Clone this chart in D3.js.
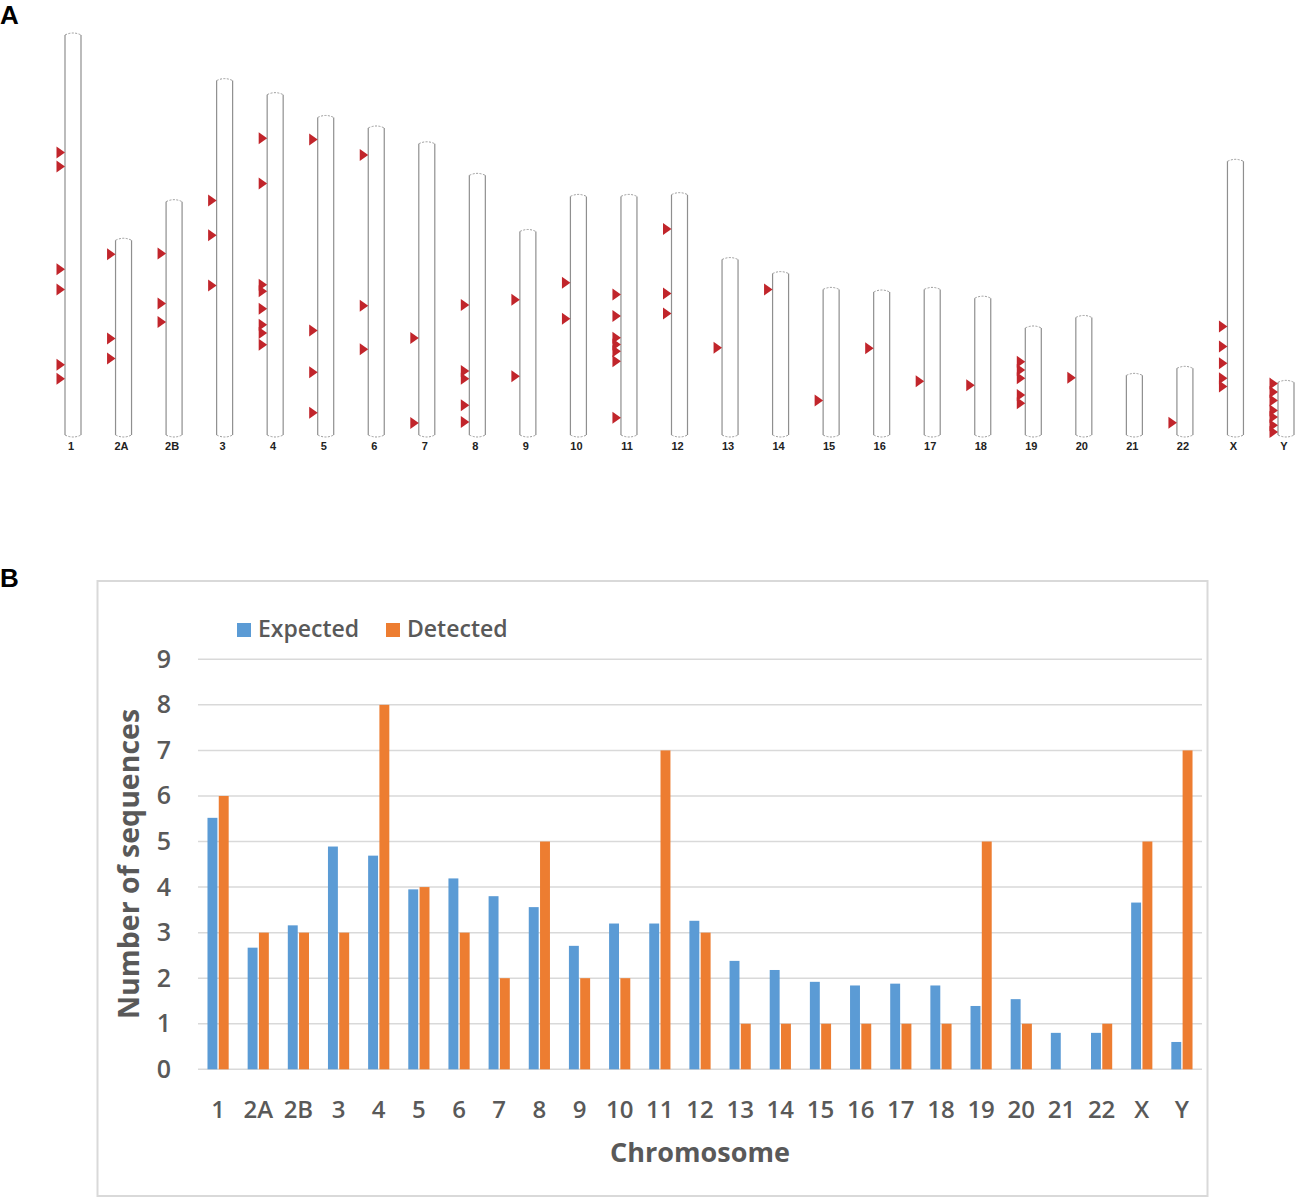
<!DOCTYPE html>
<html>
<head>
<meta charset="utf-8">
<script src="https://cdn.jsdelivr.net/npm/d3@7"></script>
<style>
  body { margin: 0; background: #fff; }
  svg { display: block; }
</style>
</head>
<body>
<div id="chart-area"></div>
<script>
// chromosomes shared by both panels
var chroms = ["1","2A","2B","3","4","5","6","7","8","9","10","11","12","13","14","15","16","17","18","19","20","21","22","X","Y"];

// panel A: chromosome lengths (Mb) and hit positions (Mb from top end)
var chromLength = [228, 111, 133, 202, 194, 181, 175, 166, 148, 116, 136, 136, 137, 100, 92, 83, 81.5, 83, 78, 61, 67, 34, 38, 156, 30];
var hitPositions = [
  [67, 75, 133.5, 145, 188, 196],
  [8, 56, 67.4],
  [29.6, 58.1, 68.6],
  [68.4, 88.2, 116.8],
  [24.9, 50.7, 108.3, 112.1, 122.1, 131.1, 135.8, 142.5],
  [12.5, 121.4, 145.2, 168.3],
  [15.4, 101.3, 126.1],
  [110.7, 159.2],
  [73.9, 111.5, 115.9, 131.1, 140.6],
  [38.9, 82.5],
  [49.2, 69.7],
  [55.9, 68.2, 80.5, 84.4, 88.2, 93.9, 126.1],
  [19.6, 56.4, 67.8],
  [50.3],
  [9.1],
  [63.3],
  [32.1],
  [52.3],
  [49.6],
  [19.2, 23.9, 28.7, 38.2, 42.9],
  [34.4],
  [],
  [31],
  [94.2, 105.6, 115.1, 123.7, 128.4],
  [0.7, 5.5, 10.3, 16, 19.8, 24.5, 28.3]
];

// panel B: number of sequences
var seriesNames = ["Expected", "Detected"];
var expected = [5.52, 2.67, 3.16, 4.89, 4.69, 3.95, 4.19, 3.80, 3.56, 2.71, 3.20, 3.20, 3.26, 2.38, 2.18, 1.92, 1.84, 1.88, 1.84, 1.39, 1.54, 0.80, 0.80, 3.66, 0.60];
var detected = [6, 3, 3, 3, 8, 4, 3, 2, 5, 2, 2, 7, 3, 1, 1, 1, 1, 1, 1, 5, 1, 0, 1, 5, 7];
var yTicks = [0, 1, 2, 3, 4, 5, 6, 7, 8, 9];

var colors = {Expected: "#5b9bd5", Detected: "#ed7d31"};
var textGrey = "#595959";

var svg = d3.select("#chart-area").append("svg")
    .attr("width", 1300)
    .attr("height", 1203)
    .style("font-family", "'Open Sans', sans-serif");

svg.append("rect").attr("width", 1300).attr("height", 1203).attr("fill", "#fff");

// ---------- panel A ----------
svg.append("text").attr("x", 0).attr("y", 24)
    .attr("font-family", "'Liberation Sans', Arial, sans-serif")
    .attr("font-weight", "bold").attr("font-size", 26).text("A");

var baseA = 435, halfW = 8;
var xA = d3.scalePoint().domain(chroms).range([73, 1286]);
var kA = d3.scaleLinear().domain([0, 228]).range([0, 400]);

var chromData = chroms.map(function(c, i) {
  return {name: c, len: chromLength[i], hits: hitPositions[i]};
});

var gChr = svg.append("g").selectAll("g")
  .data(chromData)
  .enter().append("g");

gChr.append("rect")
    .attr("x", d => xA(d.name) - halfW)
    .attr("y", d => baseA - kA(d.len))
    .attr("width", halfW * 2)
    .attr("height", d => kA(d.len))
    .attr("fill", "#fff");

gChr.append("path")
    .attr("d", d => {
      var l = xA(d.name) - halfW, r = xA(d.name) + halfW, t = baseA - kA(d.len);
      return "M" + l + "," + t + "V" + baseA + "M" + r + "," + t + "V" + baseA;
    })
    .attr("stroke", "#8f8f8f")
    .attr("stroke-width", 1.2)
    .attr("fill", "none");

gChr.append("path")
    .attr("d", d => {
      var c = xA(d.name), l = c - halfW, r = c + halfW, t = baseA - kA(d.len);
      return "M" + l + "," + t + "Q" + c + "," + (t - 4) + " " + r + "," + t +
             "M" + l + "," + baseA + "Q" + c + "," + (baseA + 4) + " " + r + "," + baseA;
    })
    .attr("stroke", "#9a9a9a")
    .attr("stroke-width", 1)
    .attr("stroke-dasharray", "2,1.5")
    .attr("fill", "none");

gChr.selectAll("path.hit")
  .data(d => d.hits.map(p => ({c: d.name, y: baseA - kA(d.len) + kA(p)})))
  .enter().append("path")
    .attr("class", "hit")
    .attr("d", d => {
      var tip = xA(d.c) - halfW;
      return "M" + (tip - 8.5) + "," + (d.y - 6) + "L" + tip + "," + d.y + "L" + (tip - 8.5) + "," + (d.y + 6) + "Z";
    })
    .attr("fill", "#c1252b");

gChr.append("text")
    .attr("x", d => xA(d.name) - 2)
    .attr("y", 449.5)
    .attr("text-anchor", "middle")
    .attr("font-family", "'Liberation Sans', Arial, sans-serif")
    .attr("font-weight", "bold")
    .attr("font-size", 11)
    .attr("fill", "#222")
    .text(d => d.name);

// ---------- panel B ----------
svg.append("text").attr("x", 0).attr("y", 587)
    .attr("font-family", "'Liberation Sans', Arial, sans-serif")
    .attr("font-weight", "bold").attr("font-size", 26).text("B");

svg.append("rect")
    .attr("x", 97.5).attr("y", 581)
    .attr("width", 1110).attr("height", 615)
    .attr("fill", "#fff")
    .attr("stroke", "#d9d9d9")
    .attr("stroke-width", 2);

var xB = d3.scaleBand().domain(chroms).range([198, 1202]).padding(0);
var mid = xB.bandwidth() / 2;
var xInner = d3.scaleBand().domain(seriesNames).range([mid - 10.6, mid + 10.6]).paddingInner(0.12);
var yB = d3.scaleLinear().domain([0, 9]).range([1069.3, 659.3]);

svg.append("g").selectAll("line")
  .data(yTicks)
  .enter().append("line")
    .attr("x1", 198).attr("x2", 1202)
    .attr("y1", d => yB(d)).attr("y2", d => yB(d))
    .attr("stroke", "#d9d9d9")
    .attr("stroke-width", 1.5);

var yAxis = svg.append("g")
    .attr("transform", "translate(176,0)")
    .call(d3.axisLeft(yB).tickValues(yTicks).tickSize(0).tickPadding(5));
yAxis.select(".domain").remove();
yAxis.selectAll("text")
    .attr("font-family", "'Open Sans', sans-serif")
    .attr("font-size", 25)
    .attr("font-weight", 600)
    .attr("fill", textGrey);

var groups = svg.append("g").selectAll("g")
  .data(chroms.map((c, i) => ({name: c, Expected: expected[i], Detected: detected[i]})))
  .enter().append("g")
    .attr("transform", d => "translate(" + xB(d.name) + ",0)");

groups.selectAll("rect")
  .data(d => seriesNames.map(s => ({key: s, value: d[s]})))
  .enter().append("rect")
    .attr("x", d => xInner(d.key))
    .attr("y", d => yB(d.value))
    .attr("width", xInner.bandwidth())
    .attr("height", d => yB(0) - yB(d.value))
    .attr("fill", d => colors[d.key]);

var xAxis = svg.append("g")
    .attr("transform", "translate(0,1101)")
    .call(d3.axisBottom(xB).tickSize(0).tickPadding(0));
xAxis.select(".domain").remove();
xAxis.selectAll("text")
    .attr("font-family", "'Open Sans', sans-serif")
    .attr("font-size", 24)
    .attr("font-weight", 600)
    .attr("fill", textGrey);

svg.append("text")
    .attr("x", 700).attr("y", 1162)
    .attr("text-anchor", "middle")
    .attr("font-size", 27)
    .attr("font-weight", 700)
    .attr("fill", textGrey)
    .text("Chromosome");

svg.append("text")
    .attr("transform", "translate(139,864) rotate(-90)")
    .attr("text-anchor", "middle")
    .attr("font-size", 28.5)
    .attr("font-weight", 700)
    .attr("fill", textGrey)
    .text("Number of sequences");

// legend
var legend = svg.append("g").selectAll("g")
  .data(seriesNames)
  .enter().append("g")
    .attr("transform", (d, i) => "translate(" + (237 + i * 149) + ",623)");
legend.append("rect")
    .attr("width", 14).attr("height", 14)
    .attr("fill", d => colors[d]);
legend.append("text")
    .attr("x", 21).attr("y", 14)
    .attr("font-size", 23)
    .attr("font-weight", 600)
    .attr("fill", textGrey)
    .text(d => d);
</script>
</body>
</html>
